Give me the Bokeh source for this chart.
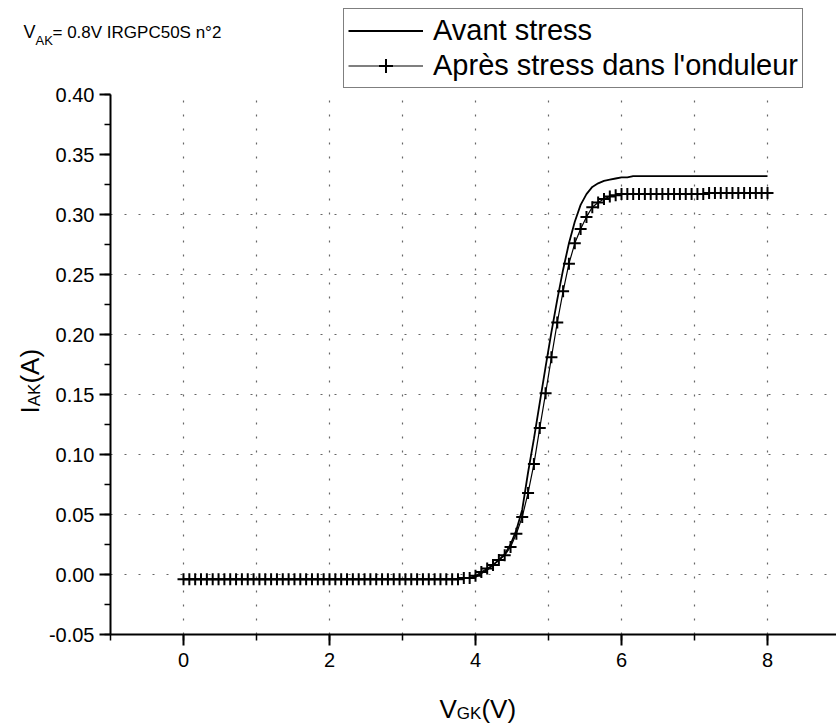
import math
from bokeh.plotting import figure
from bokeh.models import (Legend, LegendItem, Label, SingleIntervalTicker,
                          FixedTicker, NumeralTickFormatter, Range1d)
from bokeh.embed import file_html
from bokeh.resources import INLINE

# ---------------- data ----------------
v_gk = [0.00, 0.08, 0.16, 0.24, 0.32, 0.40, 0.48, 0.56, 0.64, 0.72,
        0.80, 0.88, 0.96, 1.04, 1.12, 1.20, 1.28, 1.36, 1.44, 1.52,
        1.60, 1.68, 1.76, 1.84, 1.92, 2.00, 2.08, 2.16, 2.24, 2.32,
        2.40, 2.48, 2.56, 2.64, 2.72, 2.80, 2.88, 2.96, 3.04, 3.12,
        3.20, 3.28, 3.36, 3.44, 3.52, 3.60, 3.68, 3.76, 3.84, 3.92,
        4.00, 4.08, 4.16, 4.24, 4.32, 4.40, 4.48, 4.56, 4.64, 4.72,
        4.80, 4.88, 4.96, 5.04, 5.12, 5.20, 5.28, 5.36, 5.44, 5.52,
        5.60, 5.68, 5.76, 5.84, 5.92, 6.00, 6.08, 6.16, 6.24, 6.32,
        6.40, 6.48, 6.56, 6.64, 6.72, 6.80, 6.88, 6.96, 7.04, 7.12,
        7.20, 7.28, 7.36, 7.44, 7.52, 7.60, 7.68, 7.76, 7.84, 7.92,
        8.00]

i_ak_avant = [-0.004, -0.004, -0.004, -0.004, -0.004, -0.004, -0.004, -0.004, -0.004, -0.004,
              -0.004, -0.004, -0.004, -0.004, -0.004, -0.004, -0.004, -0.004, -0.004, -0.004,
              -0.004, -0.004, -0.004, -0.004, -0.004, -0.004, -0.004, -0.004, -0.004, -0.004,
              -0.004, -0.004, -0.004, -0.004, -0.004, -0.004, -0.004, -0.004, -0.004, -0.004,
              -0.004, -0.004, -0.004, -0.004, -0.004, -0.004, -0.004, -0.004, -0.003, -0.003,
              -0.002, 0.001, 0.004, 0.008, 0.012, 0.017, 0.025, 0.037, 0.054, 0.085,
              0.113, 0.143, 0.173, 0.202, 0.229, 0.254, 0.276, 0.294, 0.308, 0.317,
              0.323, 0.326, 0.328, 0.329, 0.330, 0.331, 0.331, 0.332, 0.332, 0.332,
              0.332, 0.332, 0.332, 0.332, 0.332, 0.332, 0.332, 0.332, 0.332, 0.332,
              0.332, 0.332, 0.332, 0.332, 0.332, 0.332, 0.332, 0.332, 0.332, 0.332,
              0.332]

i_ak_apres = [-0.004, -0.004, -0.004, -0.004, -0.004, -0.004, -0.004, -0.004, -0.004, -0.004,
              -0.004, -0.004, -0.004, -0.004, -0.004, -0.004, -0.004, -0.004, -0.004, -0.004,
              -0.004, -0.004, -0.004, -0.004, -0.004, -0.004, -0.004, -0.004, -0.004, -0.004,
              -0.004, -0.004, -0.004, -0.004, -0.004, -0.004, -0.004, -0.004, -0.004, -0.004,
              -0.004, -0.004, -0.004, -0.004, -0.004, -0.004, -0.004, -0.004, -0.003, -0.003,
              -0.001, 0.002, 0.005, 0.008, 0.012, 0.016, 0.023, 0.034, 0.048, 0.068,
              0.092, 0.122, 0.151, 0.181, 0.210, 0.236, 0.259, 0.276, 0.288, 0.298,
              0.306, 0.310, 0.313, 0.315, 0.316, 0.317, 0.317, 0.317, 0.317, 0.317,
              0.317, 0.317, 0.317, 0.317, 0.317, 0.317, 0.317, 0.317, 0.317, 0.317,
              0.318, 0.318, 0.318, 0.318, 0.318, 0.318, 0.318, 0.318, 0.318, 0.318,
              0.318]

series_labels = ["Avant stress", "Après stress dans l'onduleur"]
x_grid_values = [0, 1, 2, 3, 4, 5, 6, 7, 8]
y_grid_values = [0.0, 0.05, 0.10, 0.15, 0.20, 0.25, 0.30]

# ---------------- layout ----------------
FONT = "Liberation Sans"
W, H = 836, 726
X_AX, Y_AX = -1.0, -0.05          # where the two axes cross
Y_TOP = 0.40
PX_PER_X = 73.0
PX_PER_Y = 1200.0
AXIS_PX, AXIS_PY = 110, 634       # page pixels of the axes crossing
X_START = X_AX - AXIS_PX / PX_PER_X
X_END = X_START + W / PX_PER_X
Y_START = Y_AX - (H - AXIS_PY) / PX_PER_Y
Y_END = Y_START + H / PX_PER_Y


def px2x(px):
    return X_START + px / PX_PER_X


def py2y(py):
    return Y_START + (H - py) / PX_PER_Y


p = figure(width=W, height=H, output_backend="svg", toolbar_location=None,
           x_range=Range1d(X_START, X_END), y_range=Range1d(Y_START, Y_END),
           min_border_left=0, min_border_right=0,
           min_border_top=0, min_border_bottom=0)
p.outline_line_color = None
p.background_fill_color = "white"
p.border_fill_color = "white"

# axes (drawn at fixed data locations, limited by bounds)
p.xaxis.fixed_location = Y_AX
p.yaxis.fixed_location = X_AX
p.xaxis.bounds = (X_AX, X_END)
p.yaxis.bounds = (Y_AX, Y_TOP)
p.xaxis.ticker = SingleIntervalTicker(interval=2, num_minor_ticks=2)
p.yaxis.ticker = SingleIntervalTicker(interval=0.05, num_minor_ticks=2)
p.yaxis.formatter = NumeralTickFormatter(format="0.00")
for ax in (p.xaxis[0], p.yaxis[0]):
    ax.axis_line_color = "black"
    ax.axis_line_width = 2
    ax.major_tick_line_color = "black"
    ax.major_tick_line_width = 2
    ax.minor_tick_line_color = "black"
    ax.minor_tick_line_width = 1.5
    ax.major_tick_out = 11
    ax.major_tick_in = 0
    ax.minor_tick_out = 6
    ax.minor_tick_in = 0
    ax.major_label_text_font = FONT
    ax.major_label_text_font_size = "20px"
    ax.major_label_text_color = "black"
p.xaxis.major_label_standoff = 7
p.yaxis.major_label_standoff = 5

# grid
p.xgrid.ticker = FixedTicker(ticks=x_grid_values)
p.ygrid.ticker = FixedTicker(ticks=y_grid_values)
p.xgrid.cross_bounds = (Y_AX, Y_TOP)
p.ygrid.cross_bounds = (X_AX, X_END)
for g in (p.xgrid[0], p.ygrid[0]):
    g.grid_line_color = "#666666"
    g.grid_line_dash = "2 12"
    g.grid_line_width = 1.2

# series
r_avant = p.line(v_gk, i_ak_avant, line_color="black", line_width=1.8)
r_apres_line = p.line(v_gk, i_ak_apres, line_color="black", line_width=1.2)
r_apres_mark = p.scatter(v_gk, i_ak_apres, marker="cross", size=12,
                         line_color="black", line_width=2)

legend = Legend(items=[LegendItem(label=series_labels[0], renderers=[r_avant]),
                       LegendItem(label=series_labels[1],
                                  renderers=[r_apres_line, r_apres_mark])],
                location=(343, H - 88), orientation="vertical",
                border_line_color="black", border_line_width=1.5,
                background_fill_color="white", background_fill_alpha=1.0,
                padding=4, spacing=0, margin=0,
                label_height=35, glyph_height=35, glyph_width=75,
                label_standoff=10, label_text_font=FONT,
                label_text_font_size="29px", label_text_color="black")
p.add_layout(legend)


def add_text(px, py, text, size, angle=0.0):
    p.add_layout(Label(x=px2x(px), y=py2y(py), text=text, text_font=FONT,
                       text_font_size=f"{size}px", text_color="black",
                       text_align="left", text_baseline="alphabetic",
                       angle=angle))


# top-left annotation  V_AK = 0.8V IRGPC50S n°2
add_text(23, 31, "V", 18)
add_text(35, 40, "AK", 13)
add_text(52, 32, "= 0.8V IRGPC50S n°2", 17)

# x axis title  V_GK(V)
add_text(439, 708, "V", 26)
add_text(456.3, 713, "GK", 17)
add_text(480.9, 708, "(V)", 26)

# y axis title  I_AK(A) (rotated)
rot = math.pi / 2
add_text(29, 413, "I", 26, rot)
add_text(34, 405.8, "AK", 17, rot)
add_text(29, 383.1, "(A)", 26, rot)

open("out.html", "w").write(file_html(p, INLINE))
